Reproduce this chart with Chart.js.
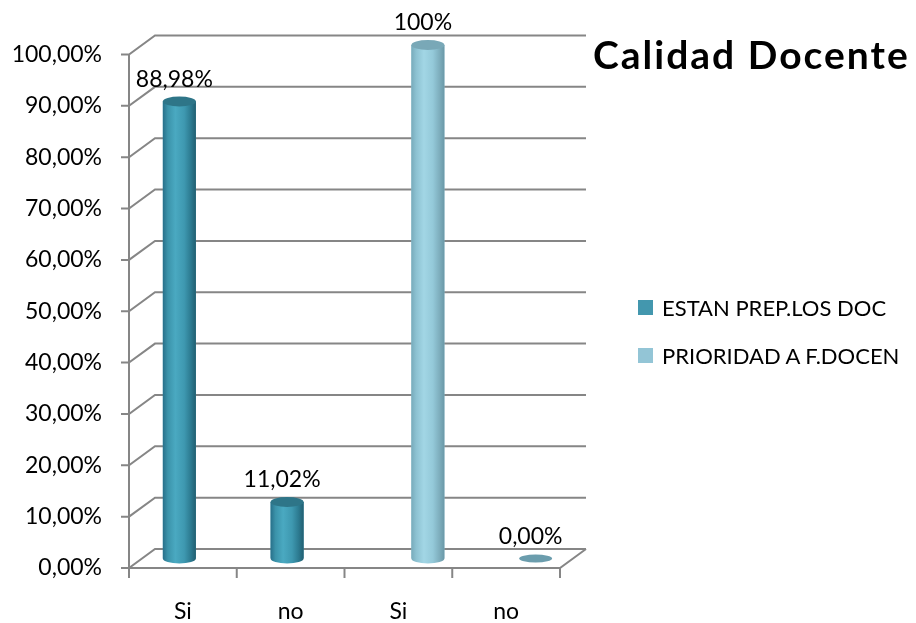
<!DOCTYPE html>
<html lang="es">
<head>
  <meta charset="UTF-8">
  <title>Calidad Docente</title>
  <script src="https://cdn.jsdelivr.net/npm/chart.js"></script>
  <style>
    body {
      margin: 0;
      background: #fff;
      font-family: Lato, sans-serif;
    }
    #marco {
      position: relative;
      width: 916px;
      height: 623px;
    }
    #titulo {
      position: absolute;
      left: 593px;
      top: 35px;
      font-size: 39px;
      line-height: 39px;
      letter-spacing: 2px;
      font-weight: bold;
      white-space: nowrap;
      color: #000;
    }
    #leyenda {
      position: absolute;
      left: 638px;
      top: 283px;
      font-size: 22px;
      color: #000;
    }
    #leyenda .fila {
      display: flex;
      align-items: center;
      height: 48px;
      white-space: nowrap;
    }
    #leyenda .caja {
      width: 15px;
      height: 15px;
      margin-right: 9px;
    }
  </style>
</head>
<body>
  <div id="marco">
    <canvas id="grafico"></canvas>
    <div id="titulo">Calidad Docente</div>
    <div id="leyenda"></div>
  </div>

  <script>
    // datos
    const categorias = ['Si', 'no', 'Si', 'no'];
    const estanPreparados = [88.98, 11.02, null, null];
    const prioridadFormacion = [null, null, 100, 0];
    const etiquetasEstan = ['88,98%', '11,02%', null, null];
    const etiquetasPrioridad = [null, null, '100%', '0,00%'];
    const nombresSeries = ['ESTAN PREP.LOS DOC', 'PRIORIDAD A F.DOCEN'];

    // desplazamiento de la perspectiva (medio -> frente / fondo)
    const DX = 13;
    const DY = 9.5;
    const GRIS = '#868686';
    const fuente = { family: 'Lato', size: 23 };

    const cilindros = [
      { stops: ['#28708a', '#3b93aa', '#4aa9c1', '#3e98b0', '#2c7a90', '#225f71'], tapa: '#2e7588' },
      { stops: ['#78abbb', '#8dc2d2', '#a2d6e5', '#94c9d9', '#7eaebd', '#6a98a7'], tapa: '#79a8b7' }
    ];

    // pared del fondo, lateral y piso
    const planos3d = {
      id: 'planos3d',
      beforeDatasetsDraw(chart) {
        const { ctx, chartArea: a, scales: { x, y } } = chart;
        ctx.save();
        ctx.strokeStyle = GRIS;
        ctx.lineWidth = 2;
        const y0 = y.getPixelForValue(0);
        y.ticks.forEach(t => {
          const py = y.getPixelForValue(t.value);
          ctx.beginPath();
          ctx.moveTo(a.left - DX - 8, py + DY);
          ctx.lineTo(a.left - DX, py + DY);
          ctx.lineTo(a.left + DX, py - DY);
          ctx.lineTo(a.right + DX, py - DY);
          ctx.stroke();
        });
        // eje vertical frontal y piso
        ctx.beginPath();
        ctx.moveTo(a.left - DX, y.getPixelForValue(100) + DY);
        ctx.lineTo(a.left - DX, y0 + DY);
        ctx.lineTo(a.right - DX, y0 + DY);
        ctx.lineTo(a.right + DX, y0 - DY);
        ctx.stroke();
        // marcas del eje x
        const ancho = (a.right - a.left) / categorias.length;
        for (let i = 0; i <= categorias.length; i++) {
          const px = x.getPixelForValue(0) - ancho / 2 + i * ancho - DX;
          ctx.beginPath();
          ctx.moveTo(px, y0 + DY);
          ctx.lineTo(px, y0 + DY + 10);
          ctx.stroke();
        }
        ctx.restore();
      }
    };

    // barras como cilindros + etiquetas de valor
    const cilindros3d = {
      id: 'cilindros3d',
      afterDatasetsDraw(chart) {
        const { ctx } = chart;
        const etiquetas = [etiquetasEstan, etiquetasPrioridad];
        chart.data.datasets.forEach((ds, di) => {
          const meta = chart.getDatasetMeta(di);
          const c = cilindros[di];
          meta.data.forEach((el, i) => {
            if (ds.data[i] === null) return;
            const w = el.width, l = el.x - w / 2, r = el.x + w / 2;
            const ry = 5;
            ctx.save();
            const g = ctx.createLinearGradient(l, 0, r, 0);
            const pos = [0, 0.15, 0.38, 0.65, 0.85, 1];
            c.stops.forEach((col, k) => g.addColorStop(pos[k], col));
            if (el.base - el.y > 0.5) {
              ctx.fillStyle = g;
              ctx.beginPath();
              ctx.moveTo(l, el.y);
              ctx.lineTo(l, el.base);
              ctx.ellipse(el.x, el.base, w / 2, ry, 0, Math.PI, 0, true);
              ctx.lineTo(r, el.y);
              ctx.closePath();
              ctx.fill();
              ctx.fillStyle = c.tapa;
              ctx.beginPath();
              ctx.ellipse(el.x, el.y, w / 2, ry, 0, 0, Math.PI * 2);
              ctx.fill();
            } else {
              ctx.fillStyle = '#6b9dad';
              ctx.beginPath();
              ctx.ellipse(el.x, el.base, w / 2, ry - 1, 0, 0, Math.PI * 2);
              ctx.fill();
            }
            ctx.fillStyle = '#000';
            ctx.font = '23px Lato';
            ctx.textAlign = 'center';
            ctx.textBaseline = 'middle';
            ctx.fillText(etiquetas[di][i], el.x - 5, el.y - 22);
            ctx.restore();
          });
        });
      }
    };

    // leyenda en html a partir de los datasets
    const leyendaHtml = {
      id: 'leyendaHtml',
      afterUpdate(chart) {
        const cont = document.getElementById('leyenda');
        cont.innerHTML = '';
        const items = chart.options.plugins.legend.labels.generateLabels(chart);
        items.forEach(item => {
          const fila = document.createElement('div');
          fila.className = 'fila';
          const caja = document.createElement('span');
          caja.className = 'caja';
          caja.style.background = item.fillStyle;
          const txt = document.createElement('span');
          txt.textContent = item.text;
          fila.appendChild(caja);
          fila.appendChild(txt);
          cont.appendChild(fila);
        });
      }
    };

    new Chart(document.getElementById('grafico'), {
      type: 'bar',
      data: {
        labels: categorias,
        datasets: [{
          label: nombresSeries[0],
          data: estanPreparados,
          backgroundColor: '#4397ae'
        }, {
          label: nombresSeries[1],
          data: prioridadFormacion,
          backgroundColor: '#93c5d6'
        }]
      },
      options: {
        responsive: true,
        maintainAspectRatio: false,
        animation: false,
        categoryPercentage: 0.613,
        barPercentage: 1.0,
        layout: { padding: { top: 45, bottom: 0, left: 12, right: 343 } },
        plugins: {
          legend: { display: false },
          tooltip: { enabled: false }
        },
        scales: {
          x: {
            grid: { display: false, drawTicks: false },
            border: { display: false },
            ticks: { padding: 39, labelOffset: -DX, color: '#000', font: fuente },
            afterFit: s => { s.height = 64.5; }
          },
          y: {
            min: 0,
            max: 100,
            grid: { display: false, drawTicks: false },
            border: { display: false },
            ticks: {
              stepSize: 10,
              padding: 40,
              labelOffset: DY,
              color: '#000',
              font: fuente,
              callback: v => v.toFixed(2).replace('.', ',') + '%'
            },
            afterFit: s => {
              s.width = 130;
              s.paddingTop = 0;
              s.paddingBottom = 0;
            }
          }
        }
      },
      plugins: [planos3d, cilindros3d, leyendaHtml]
    });
  </script>
</body>
</html>
